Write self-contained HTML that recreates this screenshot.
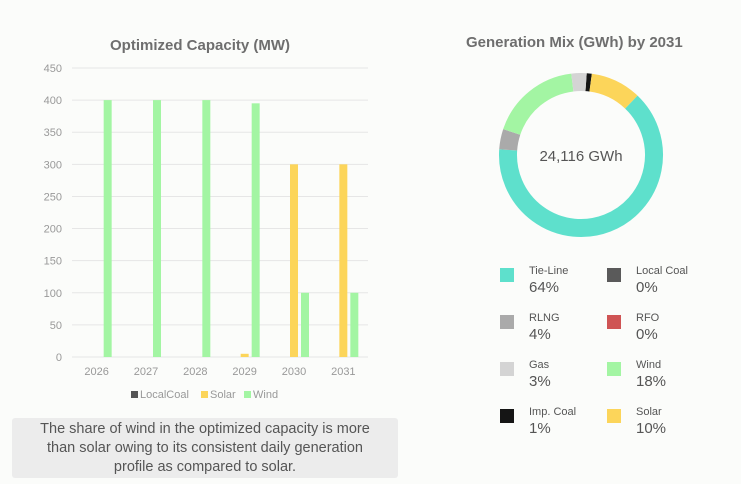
<!DOCTYPE html>
<html><head><meta charset="utf-8"><style>
body{margin:0;width:741px;height:484px;background:#fbfcfa;font-family:"Liberation Sans",sans-serif;overflow:hidden;position:relative}
.t{position:absolute;color:#6e6e6e;font-weight:bold}
.sw{position:absolute;width:14px;height:14px}
.ln{position:absolute;font-size:11px;color:#555}
.pc{position:absolute;font-size:15px;color:#555}
</style></head><body>
<div class="t" style="left:110px;top:37px;font-size:15px">Optimized Capacity (MW)</div>
<div class="t" style="left:466px;top:34px;font-size:15px">Generation Mix (GWh) by 2031</div>
<svg id="bar" width="741" height="484" style="position:absolute;left:0;top:0"></svg>
<div><div class="sw" style="left:500px;top:268px;background:#5ee0cc"></div><div class="ln" style="left:529px;top:265px">Tie-Line</div><div class="pc" style="left:529px;top:279px">64%</div></div>
<div><div class="sw" style="left:607px;top:268px;background:#5a5a5a"></div><div class="ln" style="left:636px;top:265px">Local Coal</div><div class="pc" style="left:636px;top:279px">0%</div></div>
<div><div class="sw" style="left:500px;top:315px;background:#aaa"></div><div class="ln" style="left:529px;top:312px">RLNG</div><div class="pc" style="left:529px;top:326px">4%</div></div>
<div><div class="sw" style="left:607px;top:315px;background:#cf5454"></div><div class="ln" style="left:636px;top:312px">RFO</div><div class="pc" style="left:636px;top:326px">0%</div></div>
<div><div class="sw" style="left:500px;top:362px;background:#d4d4d4"></div><div class="ln" style="left:529px;top:359px">Gas</div><div class="pc" style="left:529px;top:373px">3%</div></div>
<div><div class="sw" style="left:607px;top:362px;background:#a3f5a3"></div><div class="ln" style="left:636px;top:359px">Wind</div><div class="pc" style="left:636px;top:373px">18%</div></div>
<div><div class="sw" style="left:500px;top:409px;background:#151515"></div><div class="ln" style="left:529px;top:406px">Imp. Coal</div><div class="pc" style="left:529px;top:420px">1%</div></div>
<div><div class="sw" style="left:607px;top:409px;background:#fcd55a"></div><div class="ln" style="left:636px;top:406px">Solar</div><div class="pc" style="left:636px;top:420px">10%</div></div>
<div style="position:absolute;left:12px;top:418px;width:386px;height:60px;background:#ececec;border-radius:3px;color:#555;font-size:14.5px;text-align:center;line-height:19px;padding-top:2px;box-sizing:border-box;white-space:nowrap">The share of wind in the optimized capacity is more<br>than solar owing to its consistent daily generation<br>profile as compared to solar.</div>
<script>
const years=["2026","2027","2028","2029","2030","2031"];
const localCoal=[0,0,0,0,0,0];
const solar=[0,0,0,5,300,300];
const wind=[400,400,400,395,100,100];
const yTicks=[0,50,100,150,200,250,300,350,400,450];
const mixNames=["Imp. Coal","Solar","Tie-Line","RLNG","Wind","Gas"];
const mixVals=[1,10,64,4,18,3];
const mixColors=["#151515","#fcd55a","#5ee0cc","#aaa","#a3f5a3","#d4d4d4"];
const NS="http://www.w3.org/2000/svg";
const svg=document.getElementById('bar');
function mk(t,a){const e=document.createElementNS(NS,t);for(const k in a)e.setAttribute(k,a[k]);svg.appendChild(e);return e;}
const y0=357,y1=68,x0=72,x1=368;
const ys=v=>y0-(v/450)*(y0-y1);
const cw=(x1-x0)/years.length;
const xc=i=>x0+cw*(i+0.5)+4;
yTicks.forEach(v=>{
 const l=mk('line',{x1:x0,x2:x1,y1:ys(v),y2:ys(v),stroke:'#e6e6e6','stroke-width':1});
 
 const t=mk('text',{x:62,y:ys(v)+4,'text-anchor':'end','font-size':11,fill:'#999','font-family':'Liberation Sans'});t.textContent=v;
 
});
const series=[[localCoal,'#555',-19,'localcoal'],[solar,'#fcd55a',-8,'solar'],[wind,'#a3f5a3',3,'wind']];
years.forEach((yr,i)=>{
 const t=mk('text',{x:xc(i)-4,y:375,'text-anchor':'middle','font-size':11,fill:'#999','font-family':'Liberation Sans'});t.textContent=yr;
 
 series.forEach(s=>{const v=s[0][i];if(v<=0)return;
  const r=mk('rect',{x:xc(i)+s[2],y:ys(v),width:8,height:y0-ys(v),fill:s[1]});
  });
});
[['LocalCoal','#555',131],['Solar','#fcd55a',201],['Wind','#a3f5a3',244]].forEach(l=>{
 const r=mk('rect',{x:l[2],y:391,width:7,height:7,fill:l[1]});
 const t=mk('text',{x:l[2]+9,y:398,'font-size':11,fill:'#999','font-family':'Liberation Sans'});t.textContent=l[0];
 
});
const cx=581,cy=155,R=73,W=18;
let tot=mixVals.reduce((a,b)=>a+b,0),ang=4;
mixVals.forEach((v,i)=>{
 const a0=ang*Math.PI/180,a1=(ang+v/tot*360)*Math.PI/180;ang+=v/tot*360;
 const p=(a)=>[cx+R*Math.sin(a),cy-R*Math.cos(a)];
 const [sx,sy]=p(a0),[ex,ey]=p(a1);
 const large=(a1-a0)>Math.PI?1:0;
 const e=mk('path',{d:`M${sx} ${sy} A${R} ${R} 0 ${large} 1 ${ex} ${ey}`,fill:'none',stroke:mixColors[i],'stroke-width':W});
 
 
});
const ct=mk('text',{x:cx,y:cy+6,'text-anchor':'middle','font-size':15,fill:'#555','font-family':'Liberation Sans'});ct.textContent='24,116 GWh';

</script>
</body></html>
